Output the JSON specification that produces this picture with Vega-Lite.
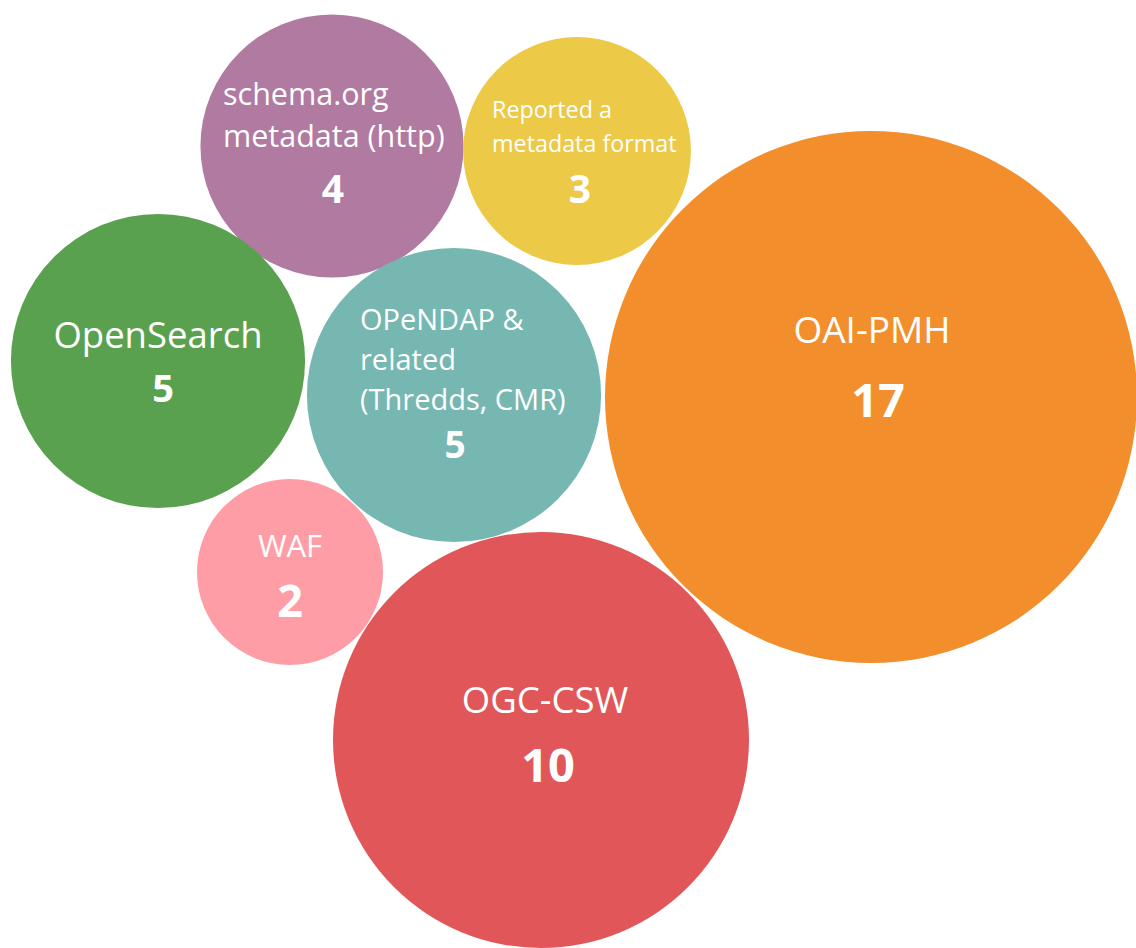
{
  "$schema": "https://vega.github.io/schema/vega-lite/v6.json",
  "width": 1136,
  "height": 948,
  "autosize": {"type": "none"},
  "padding": 0,
  "background": "white",
  "config": {"view": {"stroke": null}},
  "datasets": {
    "bubbles": [
      {"bubble": "schema.org", "count": 4, "x": 332, "y": 146},
      {"bubble": "Reported", "count": 3, "x": 577, "y": 151},
      {"bubble": "OpenSearch", "count": 5, "x": 158, "y": 361},
      {"bubble": "OPeNDAP", "count": 5, "x": 454, "y": 395},
      {"bubble": "WAF", "count": 2, "x": 290, "y": 572},
      {"bubble": "OGC-CSW", "count": 10, "x": 541, "y": 740},
      {"bubble": "OAI-PMH", "count": 17, "x": 871, "y": 397}
    ],
    "labels": [
      {"bubble": "schema.org", "text": "schema.org", "x": 223, "y": 105},
      {"bubble": "schema.org", "text": "metadata (http)", "x": 223, "y": 147},
      {"bubble": "Reported", "text": "Reported a", "x": 492, "y": 118},
      {"bubble": "Reported", "text": "metadata format", "x": 492, "y": 152},
      {"bubble": "OPeNDAP", "text": "OPeNDAP &", "x": 360, "y": 330},
      {"bubble": "OPeNDAP", "text": "related", "x": 360, "y": 370},
      {"bubble": "OPeNDAP", "text": "(Thredds, CMR)", "x": 360, "y": 410},
      {"bubble": "OpenSearch", "text": "OpenSearch", "x": 158, "y": 348},
      {"bubble": "OAI-PMH", "text": "OAI-PMH", "x": 872, "y": 343},
      {"bubble": "OGC-CSW", "text": "OGC-CSW", "x": 545, "y": 713},
      {"bubble": "WAF", "text": "WAF", "x": 290, "y": 557}
    ],
    "counts": [
      {"bubble": "schema.org", "count": 4, "x": 333, "y": 203},
      {"bubble": "Reported", "count": 3, "x": 580, "y": 203},
      {"bubble": "OPeNDAP", "count": 5, "x": 455, "y": 458},
      {"bubble": "OpenSearch", "count": 5, "x": 163, "y": 402},
      {"bubble": "OAI-PMH", "count": 17, "x": 878, "y": 417},
      {"bubble": "OGC-CSW", "count": 10, "x": 548, "y": 782},
      {"bubble": "WAF", "count": 2, "x": 290, "y": 617}
    ]
  },
  "layer": [
    {
      "data": {"name": "bubbles"},
      "mark": {"type": "circle", "opacity": 1, "strokeWidth": 0},
      "encoding": {
        "x": {"field": "x", "type": "quantitative", "scale": {"domain": [0, 1136], "nice": false, "zero": false}, "axis": null},
        "y": {"field": "y", "type": "quantitative", "scale": {"domain": [0, 948], "nice": false, "zero": false, "reverse": true}, "axis": null},
        "size": {"field": "count", "type": "quantitative", "scale": {"domain": [0, 10, 17], "range": [0, 173056, 283024]}, "legend": null},
        "color": {"field": "bubble", "type": "nominal", "legend": null,
          "scale": {"domain": ["schema.org", "Reported", "OpenSearch", "OPeNDAP", "WAF", "OGC-CSW", "OAI-PMH"],
                    "range": ["#b07aa1", "#edc948", "#59a14f", "#76b7b2", "#ff9da7", "#e15759", "#f28e2b"]}}
      }
    },
    {
      "data": {"name": "labels"},
      "transform": [{"filter": {"field": "bubble", "oneOf": ["schema.org", "Reported", "OPeNDAP"]}}],
      "mark": {"type": "text", "align": "left", "baseline": "alphabetic", "font": "Open Sans", "color": "white"},
      "encoding": {
        "x": {"field": "x", "type": "quantitative"},
        "y": {"field": "y", "type": "quantitative"},
        "text": {"field": "text"},
        "size": {"field": "bubble", "type": "nominal", "legend": null,
          "scale": {"type": "ordinal", "domain": ["schema.org", "Reported", "OPeNDAP"], "range": [30.5, 23.3, 29]}}
      }
    },
    {
      "data": {"name": "labels"},
      "transform": [{"filter": {"field": "bubble", "oneOf": ["OpenSearch", "OAI-PMH", "OGC-CSW", "WAF"]}}],
      "mark": {"type": "text", "align": "center", "baseline": "alphabetic", "font": "Open Sans", "color": "white"},
      "encoding": {
        "x": {"field": "x", "type": "quantitative"},
        "y": {"field": "y", "type": "quantitative"},
        "text": {"field": "text"},
        "size": {"field": "bubble", "type": "nominal", "legend": null,
          "scale": {"type": "ordinal", "domain": ["OpenSearch", "OAI-PMH", "OGC-CSW", "WAF"], "range": [36.5, 37, 36.5, 31]}}
      }
    },
    {
      "data": {"name": "counts"},
      "mark": {"type": "text", "align": "center", "baseline": "alphabetic", "font": "Open Sans", "fontWeight": "bold", "color": "white"},
      "encoding": {
        "x": {"field": "x", "type": "quantitative"},
        "y": {"field": "y", "type": "quantitative"},
        "text": {"field": "count", "type": "quantitative"},
        "size": {"field": "bubble", "type": "nominal", "legend": null,
          "scale": {"type": "ordinal", "domain": ["schema.org", "Reported", "OPeNDAP", "OpenSearch", "OAI-PMH", "OGC-CSW", "WAF"], "range": [39, 39, 37, 38, 47, 47, 45]}}
      }
    }
  ]
}
